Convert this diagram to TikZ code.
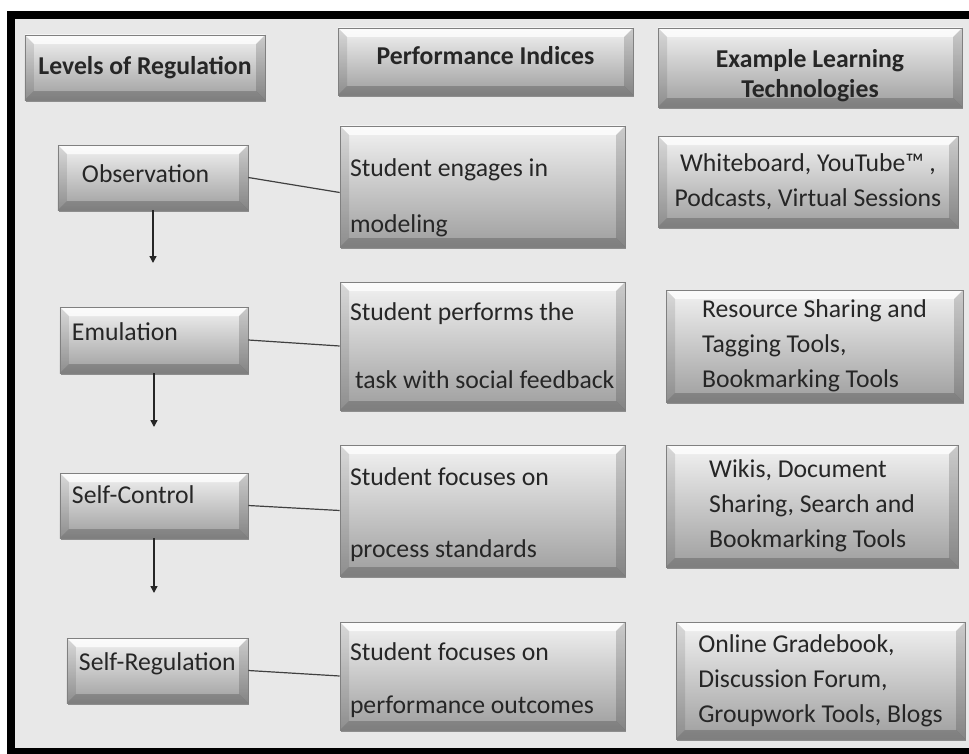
\documentclass[tikz,border=0pt]{standalone}
\usepackage{fontspec}
\setmainfont{Carlito}
\usetikzlibrary{arrows.meta,shadows}

% invisible rule to push the first line of a box down
\newcommand\topstrut[1]{\rule{0pt}{#1}}

% bevelled rim of a panel
\newcommand\bevelfaces{%
  \path (path picture bounding box.south west) coordinate (bsw)
        (path picture bounding box.north east) coordinate (bne);
  \path (bsw |- bne) coordinate (bnw) (bne |- bsw) coordinate (bse);
  \fill[white, opacity=.75] (bnw) -- (bne) -- ([shift={(-9bp,-9bp)}]bne) -- ([shift={(9bp,-9bp)}]bnw) -- cycle;
  \fill[black, opacity=.10] (bnw) -- ([shift={(9bp,-9bp)}]bnw) -- ([shift={(9bp,9bp)}]bsw) -- (bsw) -- cycle;
  \fill[black, opacity=.16] (bne) -- ([shift={(-9bp,-9bp)}]bne) -- ([shift={(-9bp,9bp)}]bse) -- (bse) -- cycle;
  \fill[black, opacity=.20] (bsw) -- ([shift={(9bp,9bp)}]bsw) -- ([shift={(-9bp,9bp)}]bse) -- (bse) -- cycle;
}

\begin{document}
\begin{tikzpicture}[x=1bp, y=-1bp,
  panel/.style={rectangle, draw=black!50, line width=0.6bp, top color=black!5, bottom color=black!38,
    drop shadow={shadow xshift=0.6bp, shadow yshift=-1.8bp, fill=black!80, opacity=.5},
    path picture={\bevelfaces}, inner ysep=0bp, text=black!85, font=\fontsize{25.8}{30}\selectfont},
  header/.style={panel, font=\fontsize{25.8}{30}\selectfont\bfseries, align=center},
  stage/.style={panel, inner xsep=12bp, align=left, text height=18bp, text depth=18bp},
  measure/.style={panel, inner xsep=10bp, text width=265bp, align=flush left, minimum width=285bp},
  toolbox/.style={panel, font=\fontsize{25.8}{35}\selectfont, align=left},
  link/.style={line width=1.2bp, black!75},
  flow/.style={line width=1.4bp, black!85, -{Triangle[length=7bp, width=7bp]}}]

  \useasboundingbox (0,0) rectangle (969,754);
  \clip (0,0) rectangle (969,754);
  % frame, open to the right
  \fill[black!9] (11,15) rectangle (1010,752);
  \draw[line width=8bp] (1010,15) -- (11,15) -- (11,752) -- (1010,752);

  % column heads
  \node[header, minimum width=240bp, minimum height=65bp, text height=18bp, text depth=3bp] (lvl) at (145,67.5) {Levels of Regulation};
  \node[header, minimum width=295bp, minimum height=67bp, text height=18bp, text depth=11bp] (perf) at (485.5,61.5) {Performance Indices};
  \node[header, minimum width=304bp, minimum height=79bp] (tech) at (810,67.5) {\topstrut{35bp}Example Learning\\Technologies};

  % levels
  \node[stage, minimum width=190bp, minimum height=65bp, inner xsep=24bp, text width=142bp, text depth=9bp] (obs) at (153,177.5) {Observation};
  \node[stage, minimum width=188bp, minimum height=66bp, text width=164bp] (emu) at (154,340) {Emulation};
  \node[stage, minimum width=188bp, minimum height=65bp, text width=164bp, text depth=22bp] (ctl) at (154,505.5) {Self-Control};
  \node[stage, minimum width=181bp, minimum height=65bp, text width=157bp, text depth=19bp] (reg) at (157.5,670.5) {Self-Regulation};

  % performance indices
  \node[measure, minimum height=121bp] (eng) at (482.5,186.5) {\topstrut{41bp}Student engages in\\[26bp]modeling};
  \node[measure, minimum height=128bp] (task) at (482.5,346) {Student performs the\\[38bp]\mbox{\hspace{5bp}task with social feedback}};
  \node[measure, minimum height=131bp] (proc) at (482.5,510.5) {\topstrut{26bp}Student focuses on\\[42bp]process standards};
  \node[measure, minimum height=108bp] (outc) at (482.5,676) {\topstrut{26bp}Student focuses on\\[23bp]\mbox{performance outcomes}};

  % technologies
  \node[toolbox, minimum width=300bp, minimum height=91bp, align=center] (wb) at (808,181.5) {Whiteboard, YouTube™ ,\\Podcasts, Virtual Sessions};
  \node[toolbox, minimum width=297bp, minimum height=112bp] (res) at (814.5,346) {Resource Sharing and\\Tagging Tools,\\Bookmarking Tools};
  \node[toolbox, minimum width=292bp, minimum height=122bp] (wik) at (812,506) {Wikis, Document\\Sharing, Search and\\Bookmarking Tools};
  \node[toolbox, minimum width=289bp, minimum height=117bp] (onl) at (820.5,680.5) {Online Gradebook,\\Discussion Forum,\\Groupwork Tools, Blogs};

  % links level -> index
  \draw[link] (obs.east) -- ([yshift=-6bp]eng.west);
  \draw[link] (emu.east) -- (task.west);
  \draw[link] (ctl.east) -- (proc.west);
  \draw[link] (reg.east) -- (outc.west);

  % downward arrows
  \coordinate (d1) at (153,263);
  \coordinate (d2) at (154,427);
  \coordinate (d3) at (154,593);
  \draw[flow] (obs.south) -- (d1);
  \draw[flow] (emu.south) -- (d2);
  \draw[flow] (ctl.south) -- (d3);
\end{tikzpicture}
\end{document}
